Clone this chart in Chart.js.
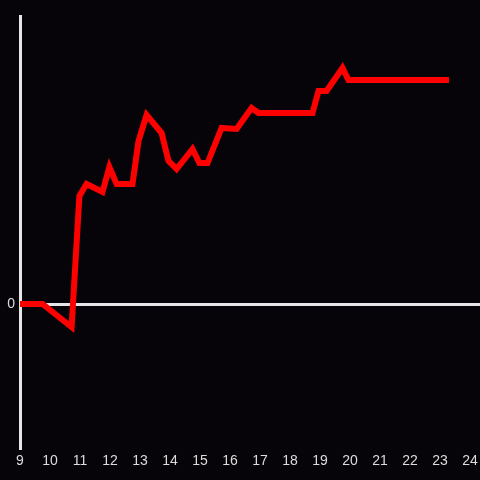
<!DOCTYPE html>
<html lang="en">
<head>
    <meta charset="UTF-8">
    <title>Chart</title>
    <script src="https://cdn.jsdelivr.net/npm/chart.js"></script>
    <style>
        html, body {
            margin: 0;
            padding: 0;
            background: #060408;
        }
        #wrap {
            width: 480px;
            height: 480px;
        }
    </style>
</head>
<body>
    <div id="wrap"><canvas id="chart" width="480" height="480"></canvas></div>
    <script>
        // hours of the day and the value at each one
        const hours = [9.0, 9.75, 10.72, 10.98, 11.22, 11.75, 11.98, 12.22, 12.75, 12.95,
            13.22, 13.72, 13.95, 14.22, 14.75, 14.98, 15.25, 15.72, 16.22, 16.72,
            16.95, 18.75, 18.95, 19.22, 19.75, 19.95, 23.3];
        const values = [0, 0, -23, 108, 120, 112, 137, 120, 120, 163,
            189, 171, 143, 135, 155, 141, 141, 176, 175, 196,
            191, 191, 213, 213, 236, 224, 224];
        const yTicks = [0];

        const points = hours.map((h, i) => ({ x: h, y: values[i] }));

        new Chart(document.getElementById('chart').getContext('2d'), {
            type: 'line',
            data: {
                datasets: [{
                    data: points,
                    borderColor: '#ff0000',
                    borderWidth: 6,
                    pointRadius: 0,
                    tension: 0,
                    fill: false
                }]
            },
            options: {
                responsive: false,
                animation: false,
                layout: { padding: { top: 16, right: 0, left: 0, bottom: 0 } },
                plugins: {
                    legend: { display: false },
                    tooltip: { enabled: false }
                },
                scales: {
                    x: {
                        type: 'linear',
                        min: 9,
                        max: 24 + 10 / 30,
                        ticks: {
                            stepSize: 1,
                            includeBounds: false,
                            color: '#dddddd',
                            font: { family: 'Liberation Sans, Arial', size: 14 },
                            maxRotation: 0,
                            autoSkip: false,
                            padding: 5
                        },
                        grid: { display: false, drawTicks: false },
                        border: { display: false },
                        afterFit: s => {
                            s.height = 32;
                            s.paddingLeft = 0;
                            s.paddingRight = 0;
                        }
                    },
                    y: {
                        min: -144,
                        max: 288,
                        afterBuildTicks: s => { s.ticks = yTicks.map(v => ({ value: v })); },
                        ticks: {
                            color: '#dddddd',
                            font: { family: 'Liberation Sans, Arial', size: 14 },
                            padding: 5
                        },
                        grid: {
                            color: '#e6e6e6',
                            lineWidth: 3,
                            drawTicks: false
                        },
                        border: { display: true, color: '#e6e6e6', width: 3 },
                        afterFit: s => {
                            s.width = 20;
                            s.paddingTop = 0;
                            s.paddingBottom = 0;
                        }
                    }
                }
            }
        });
    </script>
</body>
</html>
